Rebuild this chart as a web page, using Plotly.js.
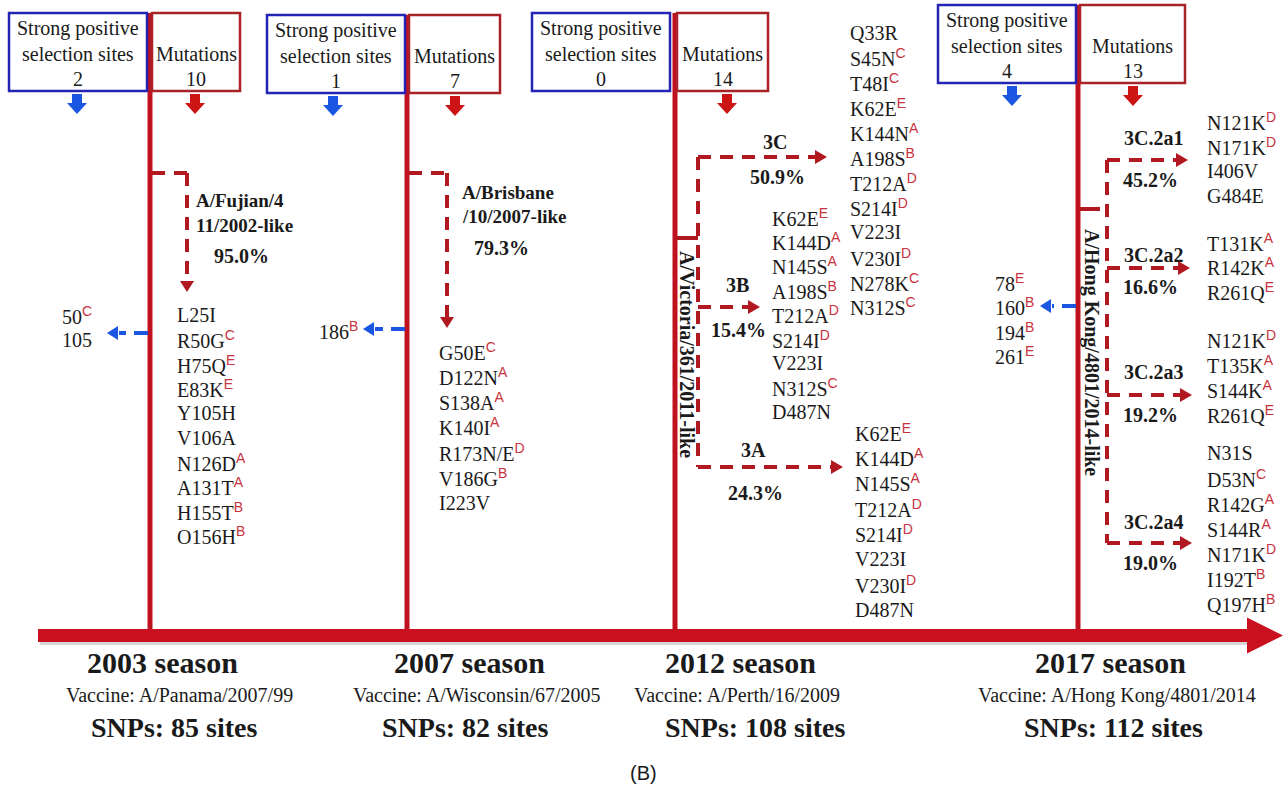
<!DOCTYPE html>
<html>
<head>
<meta charset="utf-8">
<script src="https://cdn.plot.ly/plotly-3.0.1.min.js"></script>
<style>html,body{margin:0;padding:0;background:#fff;}#chart{width:1287px;height:789px;}</style>
</head>
<body>
<div id="chart"></div>
<script>
// ---------------- DATA ----------------
const seasons = ['2003 season', '2007 season', '2012 season', '2017 season'];
const vaccines = ['A/Panama/2007/99', 'A/Wisconsin/67/2005', 'A/Perth/16/2009', 'A/Hong Kong/4801/2014'];
const snpSites = [85, 82, 108, 112];
const positiveSelectionSites = [2, 1, 0, 4];
const mutationCounts = [10, 7, 14, 13];
const positiveSiteLists = [['50|C', '105'], ['186|B'], [], ['78|E', '160|B', '194|B', '261|E']];

const likeStrain2003 = ['A/Fujian/4', '11/2002-like'];
const likePct2003 = 95.0;
const likeStrain2007 = ['A/Brisbane', '/10/2007-like'];
const likePct2007 = 79.3;
const mutations2003 = ['L25I', 'R50G|C', 'H75Q|E', 'E83K|E', 'Y105H', 'V106A', 'N126D|A', 'A131T|A', 'H155T|B', 'O156H|B'];
const mutations2007 = ['G50E|C', 'D122N|A', 'S138A|A', 'K140I|A', 'R173N/E|D', 'V186G|B', 'I223V'];

const parent2012 = 'A/Victoria/361/2011-like';
const clades2012 = ['3C', '3B', '3A'];
const cladePct2012 = [50.9, 15.4, 24.3];
const mutations3C = ['Q33R', 'S45N|C', 'T48I|C', 'K62E|E', 'K144N|A', 'A198S|B', 'T212A|D', 'S214I|D', 'V223I', 'V230I|D', 'N278K|C', 'N312S|C'];
const mutations3B = ['K62E|E', 'K144D|A', 'N145S|A', 'A198S|B', 'T212A|D', 'S214I|D', 'V223I', 'N312S|C', 'D487N'];
const mutations3A = ['K62E|E', 'K144D|A', 'N145S|A', 'T212A|D', 'S214I|D', 'V223I', 'V230I|D', 'D487N'];

const parent2017 = 'A/Hong Kong/4801/2014-like';
const clades2017 = ['3C.2a1', '3C.2a2', '3C.2a3', '3C.2a4'];
const cladePct2017 = [45.2, 16.6, 19.2, 19.0];
const mutations2a1 = ['N121K|D', 'N171K|D', 'I406V', 'G484E'];
const mutations2a2 = ['T131K|A', 'R142K|A', 'R261Q|E'];
const mutations2a3 = ['N121K|D', 'T135K|A', 'S144K|A', 'R261Q|E'];
const mutations2a4 = ['N31S', 'D53N|C', 'R142G|A', 'S144R|A', 'N171K|D', 'I192T|B', 'Q197H|B'];

const panelLabel = '(B)';

// ---------------- LAYOUT / STYLE ----------------
const W = 1287, H = 789;
const SERIF = 'Liberation Serif, Times New Roman, serif';
const SANS = 'Liberation Sans, Arial, sans-serif';
const C = {
  line: 'rgb(192,18,30)', dash: 'rgb(178,24,32)', boxBlue: 'rgb(36,36,180)', boxRed: 'rgb(168,34,40)',
  arrowBlue: 'rgb(26,86,226)', arrowRed: 'rgb(204,20,20)', sup: 'rgb(200,50,60)', text: '#1a1a1a'
};
const P = {
  lineX: [150, 407, 675, 1078],
  lineTop: [13, 15, 13, 5],
  blueBox: [[9, 147, 13, 91], [267, 405, 15, 93], [532, 670, 13, 91], [938, 1076, 5, 83]],
  redBox: [[152, 240, 13, 91], [409, 500, 15, 93], [677, 768, 13, 91], [1080, 1185, 5, 83]],
  blueArrowX: [77, 333, 600, 1012],
  redArrowX: [195, 455, 727, 1133],
  bar: {x0: 38, x1: 1248, tip: 1283, y0: 629, y1: 642, head: 18},
  seasonX: [162, 469, 740, 1110], seasonY: 662,
  vaccineX: [179, 477, 737, 1117], vaccineY: 695,
  snpX: [174, 465, 755, 1113], snpY: 727
};

const shapes = [];
const ann = [];

function seg(x0, y0, x1, y1, color, width, dash) {
  shapes.push({type: 'line', xref: 'x', yref: 'y', x0, y0, x1, y1, layer: 'above',
    line: {color, width, dash: dash || 'solid'}});
}
function poly(pts, color) {
  shapes.push({type: 'path', xref: 'x', yref: 'y', layer: 'above',
    path: 'M' + pts.map(p => p[0] + ',' + p[1]).join(' L') + ' Z', fillcolor: color, line: {width: 0}});
}
function rect(x0, x1, y0, y1, color, width, fill) {
  shapes.push({type: 'rect', xref: 'x', yref: 'y', x0, x1, y0, y1, layer: 'above',
    line: {color, width}, fillcolor: fill || 'rgba(0,0,0,0)'});
}
function head(tipX, tipY, dir, color, len, half) {
  len = len || 12; half = half || 7;
  if (dir === 'right') poly([[tipX, tipY], [tipX - len, tipY - half], [tipX - len, tipY + half]], color);
  else if (dir === 'left') poly([[tipX, tipY], [tipX + len, tipY - half], [tipX + len, tipY + half]], color);
  else poly([[tipX, tipY], [tipX - half, tipY - len], [tipX + half, tipY - len]], color);
}
function fatDown(x, y0, color) {
  poly([[x - 5, y0], [x + 5, y0], [x + 5, y0 + 9], [x + 10, y0 + 9], [x, y0 + 20], [x - 10, y0 + 9], [x - 5, y0 + 9]], color);
}
function txt(x, y, text, size, o) {
  o = o || {};
  ann.push({x, y, xref: 'x', yref: 'y', text, showarrow: false,
    xanchor: o.xa || 'left', yanchor: 'middle', textangle: o.angle || 0,
    font: {family: o.family || SERIF, size, color: o.color || C.text}});
}
function fmt(s) {
  const parts = s.split('|');
  if (parts.length < 2) return parts[0];
  return parts[0] + '<sup><span style="color:' + C.sup + ';font-family:Liberation Sans">' + parts[1] + '</span></sup>';
}
function list(items, x, y0, dy, size) {
  items.forEach((m, i) => txt(x, y0 + i * dy, fmt(m), size || 20));
}
const pct = v => v.toFixed(1) + '%';
const DASH = '13px,9px';

// timeline bar with soft shadow
rect(P.bar.x0 + 2, P.bar.x1, P.bar.y0 + 3, P.bar.y1 + 3, 'rgba(0,0,0,0)', 0, 'rgba(90,90,90,0.25)');
rect(P.bar.x0, P.bar.x1, P.bar.y0, P.bar.y1, 'rgba(0,0,0,0)', 0, 'rgb(200,16,30)');
const bm = (P.bar.y0 + P.bar.y1) / 2;
poly([[P.bar.x1 - 1, bm - P.bar.head], [P.bar.tip, bm], [P.bar.x1 - 1, bm + P.bar.head]], 'rgb(200,16,30)');

// per-season boxes, vertical lines, bottom text
seasons.forEach((s, i) => {
  const bb = P.blueBox[i], rb = P.redBox[i];
  seg(P.lineX[i], P.lineTop[i], P.lineX[i], P.bar.y0, C.line, 5);
  rect(bb[0], bb[1], bb[2], bb[3], C.boxBlue, 2.5);
  rect(rb[0], rb[1], rb[2], rb[3], C.boxRed, 2.5);
  const bcx = (bb[0] + bb[1]) / 2, rcx = (rb[0] + rb[1]) / 2;
  txt(bcx, bb[2] + 15, 'Strong positive', 20, {xa: 'center'});
  txt(bcx, bb[2] + 41, 'selection sites', 20, {xa: 'center'});
  txt(bcx, bb[2] + 66, String(positiveSelectionSites[i]), 20, {xa: 'center'});
  txt(rcx, rb[2] + 41, 'Mutations', 20, {xa: 'center'});
  txt(rcx, rb[2] + 66, String(mutationCounts[i]), 20, {xa: 'center'});
  if (positiveSelectionSites[i] > 0) fatDown(P.blueArrowX[i], bb[3] + 3, C.arrowBlue);
  fatDown(P.redArrowX[i], rb[3] + 3, C.arrowRed);
  txt(P.seasonX[i], P.seasonY, '<b>' + s + '</b>', 30, {xa: 'center'});
  txt(P.vaccineX[i], P.vaccineY, 'Vaccine: ' + vaccines[i], 20, {xa: 'center'});
  txt(P.snpX[i], P.snpY, '<b>SNPs: ' + snpSites[i] + ' sites</b>', 28, {xa: 'center'});
});

// positive selection site lists (blue dashed arrows to the left)
const psX = [60, 317, 0, 993], psY0 = [315, 330, 0, 282], psDy = 24.5;
const psArrowY = [333, 329, 0, 306], psTip = [107, 363, 0, 1040];
positiveSiteLists.forEach((arr, i) => {
  if (!arr.length) return;
  arr.forEach((m, k) => txt(psX[i], psY0[i] + k * psDy, fmt(m), 20));
  seg(P.lineX[i] - 2, psArrowY[i], psTip[i] + 12, psArrowY[i], C.arrowBlue, 4, '14px,8px');
  head(psTip[i], psArrowY[i], 'left', C.arrowBlue, 11, 7);
});

// 2003 & 2007 single-branch dashed arrows
[[0, 187, 173, 292, likeStrain2003, likePct2003, 194, [200, 225], 212, 256, mutations2003, 175, 315, 24.5],
 [1, 447, 173, 328, likeStrain2007, likePct2007, 460, [192, 216], 472, 248, mutations2007, 437, 351, 25.3]]
.forEach(([i, vx, hy, tipY, nameLines, p, nx, ny, px, py, muts, lx, ly, ldy]) => {
  seg(P.lineX[i] + 2, hy, vx, hy, C.dash, 4, DASH);
  seg(vx, hy, vx, tipY - 11, C.dash, 4, DASH);
  head(vx, tipY, 'down', C.dash, 11, 7);
  nameLines.forEach((t, k) => txt(nx, ny[k], '<b>' + t + '</b>', 19));
  txt(px, py, '<b>' + pct(p) + '</b>', 20);
  list(muts, lx, ly, ldy);
});

// 2012 clades
const vx12 = 698;
seg(P.lineX[2], 238, vx12, 238, C.dash, 4);
const arrY12 = [157, 307, 467], tip12 = [827, 760, 843];
seg(vx12, arrY12[0], vx12, arrY12[2], C.dash, 4, DASH);
const lab12X = [775, 737, 753], lab12Y = [142, 285, 450], pct12X = [777, 738, 755], pct12Y = [177, 330, 493];
clades2012.forEach((c, k) => {
  seg(vx12, arrY12[k], tip12[k] - 11, arrY12[k], C.dash, 4, DASH);
  head(tip12[k], arrY12[k], 'right', C.dash, 12, 7);
  txt(lab12X[k], lab12Y[k], '<b>' + c + '</b>', 20, {xa: 'center'});
  txt(pct12X[k], pct12Y[k], '<b>' + pct(cladePct2012[k]) + '</b>', 20, {xa: 'center'});
});
txt(687, 354, '<b>' + parent2012 + '</b>', 20, {xa: 'center', angle: 90});
list(mutations3C, 848, 33, 24.9);
list(mutations3B, 770, 217, 24.4);
list(mutations3A, 853, 432, 25.4);

// 2017 clades
const vx17 = 1107;
seg(P.lineX[3] + 2, 209, 1100, 209, C.dash, 4);
const arrY17 = [160, 268, 395, 543], tip17 = [1188, 1190, 1192, 1192];
seg(vx17, arrY17[0], vx17, arrY17[3], C.dash, 4, DASH);
const lab17Y = [138, 255, 372, 522], pct17Y = [180, 287, 415, 563];
clades2017.forEach((c, k) => {
  seg(vx17, arrY17[k], tip17[k] - 11, arrY17[k], C.dash, 4, DASH);
  head(tip17[k], arrY17[k], 'right', C.dash, 12, 7);
  txt(1153, lab17Y[k], '<b>' + c + '</b>', 20, {xa: 'center'});
  txt(1150, pct17Y[k], '<b>' + pct(cladePct2017[k]) + '</b>', 20, {xa: 'center'});
});
txt(1092, 352, '<b>' + parent2017 + '</b>', 20, {xa: 'center', angle: 90});
list(mutations2a1, 1205, 121, 25);
list(mutations2a2, 1205, 242, 24.5);
list(mutations2a3, 1205, 339, 25.3);
list(mutations2a4, 1205, 453, 25);

// panel label
txt(643, 773, panelLabel, 20, {xa: 'center', family: SANS});

const layout = {
  width: W, height: H, margin: {l: 0, r: 0, t: 0, b: 0},
  paper_bgcolor: '#fff', plot_bgcolor: '#fff', showlegend: false,
  xaxis: {range: [0, W], visible: false, fixedrange: true},
  yaxis: {range: [H, 0], visible: false, fixedrange: true},
  shapes, annotations: ann
};
const trace = {x: [0], y: [0], type: 'scatter', mode: 'markers', marker: {opacity: 0}, hoverinfo: 'skip'};
Plotly.newPlot('chart', [trace], layout, {displayModeBar: false});
</script>
</body>
</html>
